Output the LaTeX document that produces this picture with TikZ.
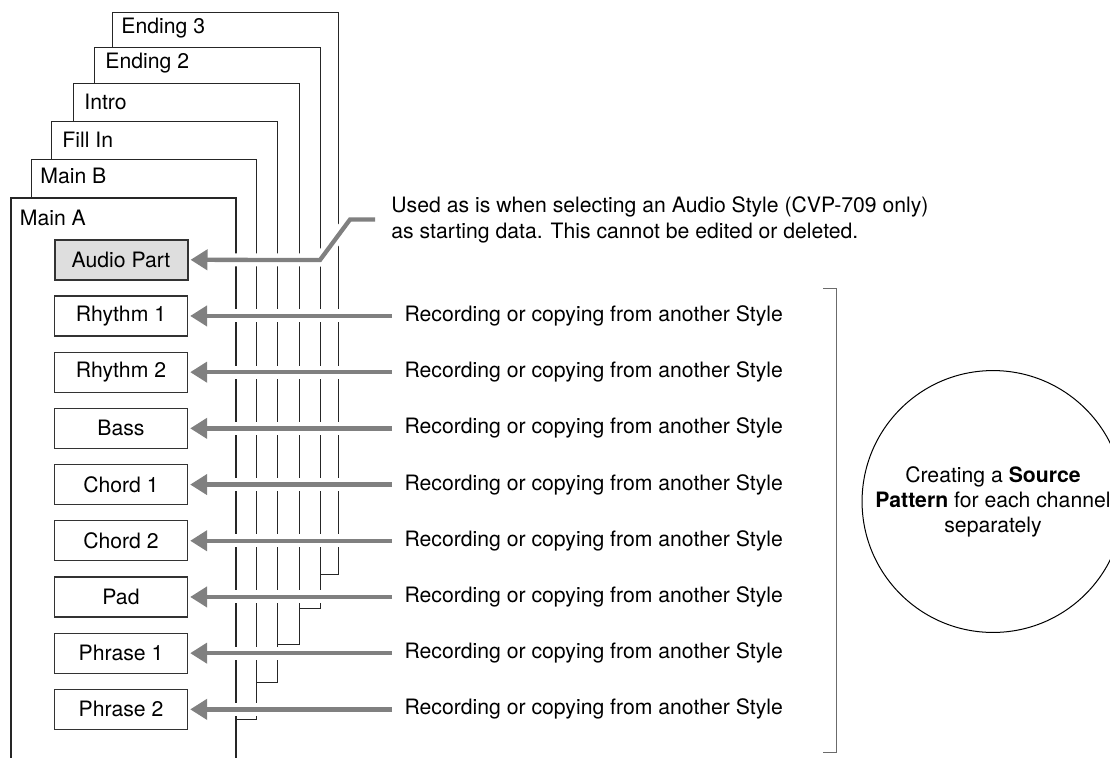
\documentclass[tikz,border=0pt]{standalone}
\usepackage{fontspec}
\setmainfont{TeX Gyre Heros}
\usepackage{tikz}
\usetikzlibrary{arrows.meta, positioning}
\definecolor{feedgray}{gray}{0.5}
\definecolor{partgray}{gray}{0.87}
\definecolor{bracegray}{gray}{0.42}

\begin{document}
\begin{tikzpicture}[x=0.5pt, y=-0.5pt, font=\fontsize{10.6}{13}\selectfont,
  frame/.style={draw=black!85, line width=0.5pt},
  tab/.style={anchor=west, inner sep=0pt},
  part/.style={draw=black!80, line width=0.65pt, minimum width=66.5pt, minimum height=20pt, inner sep=0pt},
  rec/.style={right=102pt of #1, inner xsep=6pt},
  feed/.style={draw=feedgray, line width=2.15pt, -{Triangle[length=8.5pt, width=10pt]}, shorten >=1pt,
    preaction={draw=white, line width=6.5pt, arrows=-, shorten >=12pt}},
  ]
  \useasboundingbox (0,0) rectangle (1110,757);
  \clip (0,0) rectangle (1110,757);
  % stacked sections, back to front
  \draw[frame] (112.7,47.3) |- (338.3,12.3) |- (320.7,574.3);
  \draw[frame] (94.3,83.3) |- (320.7,47.3) |- (299,608.3);
  \draw[frame] (73.3,121.7) |- (299,83.3) |- (277.3,644.3);
  \draw[frame] (51.7,159) |- (277.3,121.7) |- (256.7,682.7);
  \draw[frame] (31.7,198.3) |- (256.7,159) |- (236,719.3);
  \draw[frame, line width=1.1pt] (10.7,770) |- (236,198.3) -- (236,770);
  \node[tab] (endc) at (121,28.3) {Ending 3};
  \node[tab] (endb) at (105,63.3) {Ending 2};
  \node[tab] (intro) at (84,101.7) {Intro};
  \node[tab] (fill) at (62,139.3) {Fill In};
  \node[tab] (mainb) at (40,176) {Main B};
  \node[tab] (maina) at (19.5,218.3) {Main A};
  % channels
  \node[part, fill=partgray, line width=1pt] (audio) at (121,259.7) {Audio Part};
  \node[part, below=7.3pt of audio] (rhya) {Rhythm 1};
  \node[part, below=7.45pt of rhya] (rhyb) {Rhythm 2};
  \node[part, below=7.45pt of rhyb] (bass) {Bass};
  \node[part, below=7.45pt of bass] (chda) {Chord 1};
  \node[part, below=7.45pt of chda] (chdb) {Chord 2};
  \node[part, below=7.45pt of chdb] (pad) {Pad};
  \node[part, below=7.45pt of pad] (phra) {Phrase 1};
  \node[part, below=7.45pt of phra] (phrb) {Phrase 2};
  % sources
  \node[anchor=west, align=left, inner xsep=8pt] (note) at (375,219.5)
    {Used as is when selecting an Audio Style (CVP-709 only)\\as starting data. This cannot be edited or deleted.};
  \node[rec=rhya] (reca) {Recording or copying from another Style};
  \node[rec=rhyb] (recb) {Recording or copying from another Style};
  \node[rec=bass] (recc) {Recording or copying from another Style};
  \node[rec=chda] (recd) {Recording or copying from another Style};
  \node[rec=chdb] (rece) {Recording or copying from another Style};
  \node[rec=pad] (recf) {Recording or copying from another Style};
  \node[rec=phra] (recg) {Recording or copying from another Style};
  \node[rec=phrb] (rech) {Recording or copying from another Style};
  \draw[feed] (note.west) -- ++(-25,0) -- (320,260) -- (audio);
  \draw[feed] (reca) -- (rhya);
  \draw[feed] (recb) -- (rhyb);
  \draw[feed] (recc) -- (bass);
  \draw[feed] (recd) -- (chda);
  \draw[feed] (rece) -- (chdb);
  \draw[feed] (recf) -- (pad);
  \draw[feed] (recg) -- (phra);
  \draw[feed] (rech) -- (phrb);
  % bracket and circle
  \draw[draw=bracegray, line width=0.65pt] (823.3,288.3) -| (836.7,752.7) -- (823.3,752.7);
  \node[draw, circle, line width=0.5pt, minimum size=128pt, align=center, font=\fontsize{10.6}{12.5}\selectfont] (srcpat) at (993,501.5)
    {Creating a \textbf{Source}\\\textbf{Pattern} for each channel\\separately};
\end{tikzpicture}
\end{document}
